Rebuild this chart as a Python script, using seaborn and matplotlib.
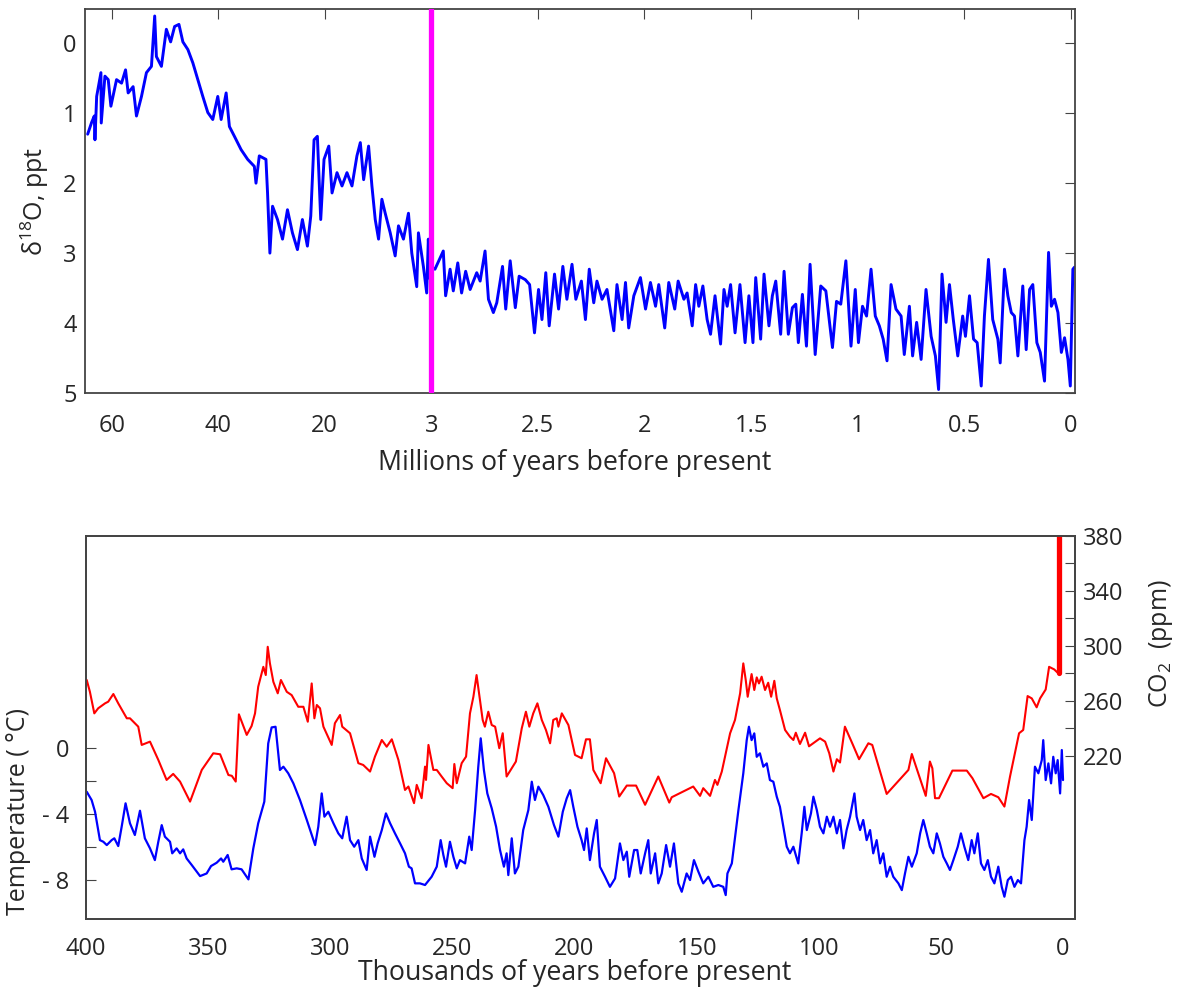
import numpy as np
import matplotlib
matplotlib.use("Agg")
import matplotlib.pyplot as plt
import seaborn as sns

# ---- top panel: benthic d18O, ages in Myr ----
d18o_age_myr = [
    64.5, 63.75, 63.26, 63.13, 62.81, 62.01, 61.95, 61.26, 60.64, 60.14,
    59.08, 58.14, 57.39, 56.90, 55.97, 55.34, 54.40, 53.47, 52.53, 51.92,
    51.60, 50.66, 49.73, 48.93, 48.18, 47.37, 46.63, 45.69, 44.76, 43.82,
    42.89, 41.95, 41.02, 40.08, 39.45, 38.51, 37.90, 36.96, 35.71, 34.47,
    33.22, 32.91, 32.29, 31.04, 30.74, 30.30, 29.80, 28.87, 27.93, 27.00,
    26.07, 25.13, 24.20, 23.26, 22.63, 22.01, 21.39, 20.76, 20.14, 19.36,
    18.84, 18.05, 17.25, 16.46, 15.66, 14.87, 14.33, 13.80, 13.01, 12.48,
    11.95, 11.42, 10.89, 10.36, 9.56, 8.77, 8.24, 7.45, 6.65, 6.12,
    5.33, 5.06, 4.27, 3.74, 3.48, 3.21, 3.00,
    2.983, 2.944, 2.933, 2.912, 2.897, 2.876, 2.858, 2.839, 2.818, 2.787,
    2.771, 2.748, 2.732, 2.709, 2.693, 2.666, 2.651, 2.630, 2.606, 2.588,
    2.559, 2.539, 2.516, 2.497, 2.481, 2.463, 2.447, 2.422, 2.403, 2.383,
    2.364, 2.340, 2.322, 2.296, 2.277, 2.259, 2.238, 2.223, 2.199, 2.176,
    2.144, 2.129, 2.105, 2.089, 2.074, 2.050, 2.019, 1.995, 1.972, 1.948,
    1.933, 1.905, 1.886, 1.858, 1.842, 1.815, 1.800, 1.776, 1.760, 1.745,
    1.726, 1.706, 1.690, 1.669, 1.643, 1.627, 1.612, 1.596, 1.575, 1.552,
    1.528, 1.510, 1.491, 1.478, 1.455, 1.439, 1.416, 1.400, 1.384, 1.361,
    1.345, 1.325, 1.306, 1.290, 1.278, 1.259, 1.240, 1.223, 1.199, 1.173,
    1.149, 1.118, 1.099, 1.079, 1.055, 1.031, 1.011, 0.996, 0.977, 0.958,
    0.937, 0.917, 0.898, 0.880, 0.862, 0.843, 0.820, 0.796, 0.781, 0.757,
    0.742, 0.723, 0.702, 0.679, 0.655, 0.635, 0.620, 0.604, 0.585, 0.569,
    0.551, 0.530, 0.507, 0.494, 0.475, 0.456, 0.439, 0.420, 0.405, 0.386,
    0.366, 0.342, 0.331, 0.311, 0.295, 0.279, 0.264, 0.248, 0.225, 0.209,
    0.193, 0.178, 0.159, 0.143, 0.123, 0.104, 0.091, 0.076, 0.060, 0.044,
    0.029, 0.013, 0.002, -0.010, -0.018,
]
d18o_ppt = [
    1.30, 1.13, 1.04, 1.38, 0.76, 0.42, 1.14, 0.47, 0.52, 0.90,
    0.52, 0.57, 0.38, 0.71, 0.62, 1.04, 0.76, 0.42, 0.33, -0.39,
    0.19, 0.33, -0.20, -0.02, -0.24, -0.27, -0.02, 0.09, 0.28, 0.52,
    0.76, 0.99, 1.09, 0.76, 1.09, 0.71, 1.19, 1.33, 1.52, 1.66,
    1.76, 2.00, 1.61, 1.66, 2.14, 3.00, 2.33, 2.52, 2.80, 2.38,
    2.71, 2.95, 2.52, 2.90, 2.47, 1.38, 1.33, 2.52, 1.66, 1.47,
    2.14, 1.85, 2.04, 1.85, 2.04, 1.61, 1.42, 1.95, 1.47, 2.04,
    2.52, 2.80, 2.23, 2.43, 2.71, 3.04, 2.61, 2.80, 2.43, 3.00,
    3.48, 2.71, 3.19, 3.57, 2.80, 3.37, 3.20,
    3.23, 2.97, 3.61, 3.23, 3.54, 3.14, 3.57, 3.26, 3.52, 3.28,
    3.40, 2.97, 3.66, 3.85, 3.71, 3.19, 3.80, 3.11, 3.78, 3.33,
    3.38, 3.45, 4.14, 3.52, 3.95, 3.28, 4.04, 3.30, 3.80, 3.19,
    3.66, 3.16, 3.66, 3.40, 3.95, 3.23, 3.71, 3.40, 3.66, 3.52,
    4.11, 3.45, 3.95, 3.42, 4.07, 3.61, 3.35, 3.80, 3.42, 3.76,
    3.45, 4.07, 3.42, 3.80, 3.40, 3.66, 3.57, 4.04, 3.45, 3.76,
    3.47, 3.95, 4.16, 3.61, 4.30, 3.52, 3.76, 3.45, 4.14, 3.45,
    4.28, 3.61, 4.28, 3.35, 4.23, 3.30, 4.04, 3.61, 3.40, 4.16,
    3.26, 4.16, 3.78, 3.73, 4.28, 3.59, 4.33, 3.16, 4.45, 3.47,
    3.54, 4.35, 3.69, 3.73, 3.11, 4.33, 3.52, 4.28, 3.76, 3.90,
    3.23, 3.90, 4.04, 4.23, 4.54, 3.45, 3.80, 3.90, 4.45, 3.76,
    4.47, 3.99, 4.52, 3.52, 4.19, 4.47, 4.95, 3.30, 3.99, 3.45,
    3.95, 4.47, 3.90, 4.19, 3.61, 4.23, 4.28, 4.90, 3.90, 3.09,
    3.95, 4.23, 4.57, 3.23, 3.61, 3.85, 3.90, 4.47, 3.47, 4.38,
    3.52, 3.45, 4.28, 4.42, 4.83, 2.99, 3.76, 3.66, 3.85, 4.42,
    4.21, 4.52, 4.90, 3.23, 3.20,
]
boundary_myr = 3.0
top_ticks = [60, 40, 20, 3, 2.5, 2, 1.5, 1, 0.5, 0]
top_tick_labels = ["60", "40", "20", "3", "2.5", "2", "1.5", "1", "0.5", "0"]

# ---- bottom panel: Vostok temperature and CO2, ages in kyr ----
temp_age_kyr = [
    399.7, 397.7, 396.3, 394.3, 392.9, 391.5, 389.5, 388.4, 386.8, 385.4,
    383.8, 382.0, 380.0, 377.9, 375.9, 373.8, 371.8, 370.4, 369.0, 367.7,
    365.6, 364.7, 362.9, 361.5, 360.2, 358.8, 356.7, 353.3, 350.6, 348.8,
    346.5, 344.7, 343.8, 342.0, 340.4, 338.3, 336.3, 333.5, 331.5, 329.5,
    327.0, 325.4, 324.0, 322.4, 320.6, 319.2, 317.2, 315.1, 312.4, 309.6,
    306.2, 304.9, 303.5, 302.4, 300.8, 298.7, 296.7, 295.1, 293.3, 291.9,
    290.2, 288.5, 287.1, 285.1, 283.7, 281.9, 280.6, 278.9, 277.2, 275.5,
    273.5, 271.4, 269.4, 267.8, 266.7, 265.3, 263.3, 261.2, 258.5, 256.4,
    254.8, 253.7, 252.6, 251.0, 249.6, 248.2, 246.9, 244.8, 243.1, 242.1,
    240.7, 239.4, 238.4, 237.1, 235.7, 233.9, 232.1, 230.5, 228.9, 227.8,
    227.1, 225.7, 224.4, 223.0, 221.0, 218.9, 217.5, 216.2, 214.8, 212.8,
    210.7, 208.4, 206.6, 204.8, 203.2, 201.8, 200.5, 198.8, 197.1, 196.1,
    195.0, 193.7, 192.0, 190.9, 189.6, 187.5, 185.5, 183.4, 181.4, 180.0,
    178.6, 177.6, 175.6, 174.3, 172.9, 171.1, 169.8, 168.8, 167.0, 165.7,
    164.3, 162.5, 160.9, 159.3, 157.5, 156.1, 154.1, 152.7, 151.1, 149.3,
    147.3, 145.2, 143.2, 141.1, 139.1, 138.1, 137.4, 135.6, 132.9, 130.9,
    129.5, 128.6, 127.5, 126.4, 125.4, 124.1, 122.7, 121.3, 120.0, 118.6,
    117.2, 115.9, 114.5, 113.1, 111.8, 110.4, 108.4, 107.0, 105.9, 104.9,
    103.2, 102.2, 100.8, 99.5, 98.1, 96.7, 95.4, 94.0, 92.6, 91.3,
    89.9, 88.6, 87.2, 85.4, 84.5, 83.1, 81.8, 80.4, 79.0, 77.7,
    76.3, 74.9, 73.6, 72.2, 70.8, 69.5, 67.4, 66.0, 64.7, 63.3,
    61.9, 59.9, 58.5, 57.2, 55.8, 54.5, 53.1, 51.7, 50.4, 49.0,
    47.6, 46.3, 44.9, 43.1, 41.8, 40.4, 38.8, 37.4, 36.3, 34.9,
    33.6, 32.2, 30.8, 29.5, 28.1, 26.5, 25.1, 24.0, 22.6, 21.3,
    19.9, 18.5, 17.2, 15.8, 14.9, 13.9, 12.8, 11.5, 10.1, 8.7,
    8.1, 7.1, 6.0, 4.9, 4.0, 3.0, 2.2, 1.2, 0.5, 0.0,
]
temp_c = [
    -2.65, -3.15, -3.86, -5.58, -5.68, -5.88, -5.58, -5.47, -5.94, -4.77,
    -3.35, -4.56, -5.27, -3.80, -5.47, -6.08, -6.79, -5.68, -4.67, -5.37,
    -5.68, -6.38, -6.08, -6.38, -6.14, -6.69, -7.09, -7.76, -7.60, -7.15,
    -6.95, -6.69, -6.89, -6.48, -7.35, -7.29, -7.35, -7.96, -6.08, -4.56,
    -3.25, 0.28, 1.25, 1.29, -1.33, -1.13, -1.53, -2.14, -3.15, -4.36,
    -5.88, -4.77, -2.75, -4.16, -3.86, -4.56, -5.17, -5.47, -4.16, -5.58,
    -5.98, -5.58, -6.69, -7.39, -5.37, -6.59, -5.78, -4.97, -3.96, -4.56,
    -5.17, -5.78, -6.38, -7.19, -7.29, -8.20, -8.20, -8.30, -7.80, -7.19,
    -5.58, -6.48, -7.19, -5.68, -6.59, -7.29, -6.79, -6.99, -5.37, -6.18,
    -3.76, -1.13, 0.59, -1.33, -2.75, -3.65, -4.77, -6.18, -7.19, -6.38,
    -7.70, -5.47, -7.60, -7.19, -4.97, -3.76, -2.04, -3.15, -2.34, -2.85,
    -3.56, -4.67, -5.37, -3.86, -3.05, -2.55, -3.56, -4.77, -5.58, -6.18,
    -4.87, -6.79, -5.17, -4.36, -7.19, -7.80, -8.41, -7.90, -5.78, -6.79,
    -6.28, -7.80, -6.18, -6.18, -7.60, -6.38, -5.58, -7.60, -6.38, -8.20,
    -7.60, -5.88, -7.19, -5.78, -8.20, -8.71, -7.60, -8.00, -6.79, -7.49,
    -8.20, -7.80, -8.41, -8.30, -8.41, -8.91, -7.60, -6.99, -3.76, -1.53,
    0.48, 1.29, 0.48, 0.89, -0.53, -0.32, -1.13, -0.93, -1.94, -2.04,
    -2.95, -3.56, -4.77, -5.98, -6.38, -5.98, -6.99, -5.17, -3.56, -4.97,
    -3.96, -2.95, -3.76, -4.77, -5.17, -4.16, -4.77, -4.16, -5.17, -4.36,
    -6.08, -4.97, -4.16, -2.75, -4.16, -4.97, -4.36, -5.58, -4.97, -6.38,
    -5.58, -6.99, -6.38, -7.80, -7.19, -7.80, -8.20, -8.61, -7.60, -6.59,
    -7.19, -6.38, -5.17, -4.36, -5.17, -5.98, -6.38, -5.17, -5.78, -6.59,
    -6.99, -7.39, -6.79, -5.98, -5.17, -5.98, -6.79, -5.58, -6.38, -5.17,
    -6.99, -7.39, -6.79, -7.80, -8.20, -7.19, -8.41, -9.01, -8.00, -7.80,
    -8.41, -8.00, -8.20, -5.58, -4.77, -3.15, -4.36, -1.13, -1.53, -0.73,
    0.48, -1.94, -0.93, -2.14, -0.53, -1.53, -0.73, -2.75, -0.12, -1.94,
]
co2_age_kyr = [
    399.7, 398.4, 396.6, 395.0, 392.2, 390.9, 388.8, 386.8, 383.3, 382.0,
    378.6, 377.2, 373.8, 370.4, 367.0, 364.3, 361.5, 357.4, 352.6, 347.9,
    345.1, 341.7, 340.3, 338.7, 337.4, 334.2, 332.2, 330.8, 329.5, 327.4,
    326.4, 325.6, 324.7, 323.3, 321.5, 320.2, 317.8, 315.8, 313.1, 311.0,
    309.2, 307.6, 306.5, 305.5, 304.2, 302.8, 299.4, 298.1, 296.0, 295.1,
    291.9, 288.5, 286.5, 283.7, 281.7, 278.9, 276.9, 274.8, 272.1, 269.4,
    268.0, 265.7, 264.6, 262.6, 261.2, 260.8, 259.8, 257.8, 256.4, 254.4,
    252.3, 249.9, 249.2, 248.2, 246.2, 244.4, 242.8, 241.4, 240.1, 237.6,
    236.7, 235.3, 233.9, 232.5, 230.8, 229.4, 227.8, 225.7, 224.0, 221.6,
    219.9, 218.5, 216.9, 215.2, 213.4, 211.7, 210.0, 208.7, 207.3, 206.6,
    205.2, 202.5, 199.8, 197.1, 195.3, 193.7, 192.3, 189.3, 187.1, 183.8,
    181.7, 178.6, 174.8, 171.1, 165.7, 161.2, 160.2, 151.4, 148.6, 147.3,
    144.5, 142.5, 141.5, 139.7, 136.3, 134.3, 132.2, 130.9, 129.9, 129.1,
    127.5, 126.4, 125.4, 124.5, 123.4, 122.0, 120.7, 119.5, 118.2, 117.2,
    115.9, 113.8, 111.8, 110.4, 109.4, 107.7, 105.6, 104.0, 99.5, 97.4,
    95.7, 94.0, 92.6, 91.3, 89.3, 86.3, 83.5, 79.7, 78.1, 72.2,
    63.3, 61.9, 56.2, 54.5, 53.5, 52.4, 50.8, 45.3, 39.4, 37.1,
    32.6, 29.5, 26.5, 24.0, 21.7, 18.0, 16.3, 14.5, 12.8, 10.8,
    9.4, 7.1, 5.7, 3.6, 2.2, 1.2,
]
co2_ppm = [
    275.1, 266.5, 250.8, 254.5, 258.1, 259.3, 264.9, 258.1, 247.2, 247.2,
    241.1, 227.8, 230.2, 216.9, 202.3, 206.7, 201.1, 186.5, 209.6, 221.7,
    221.0, 205.9, 205.3, 201.1, 250.1, 235.1, 241.6, 250.8, 270.2, 284.7,
    278.7, 299.3, 287.2, 273.8, 265.4, 275.1, 266.5, 264.1, 255.6, 255.6,
    244.7, 272.6, 247.2, 256.9, 254.5, 241.1, 227.8, 243.6, 249.6, 241.1,
    236.3, 214.5, 213.2, 208.4, 219.3, 231.4, 226.5, 231.9, 216.9, 195.0,
    197.5, 185.4, 198.7, 189.0, 212.0, 202.3, 227.8, 209.6, 209.6, 204.8,
    199.9, 196.3, 213.9, 199.9, 214.5, 219.3, 250.8, 262.9, 278.7, 246.0,
    241.1, 252.0, 242.3, 241.1, 225.4, 236.3, 204.8, 210.8, 215.7, 239.9,
    252.0, 241.1, 250.8, 258.1, 246.0, 238.7, 229.0, 246.0, 247.2, 241.1,
    250.8, 242.3, 220.5, 218.1, 231.9, 231.9, 209.6, 199.9, 218.1, 207.2,
    190.2, 198.2, 198.2, 184.2, 204.8, 185.8, 189.7, 197.5, 190.7, 196.3,
    190.7, 202.3, 198.7, 208.4, 236.3, 246.0, 265.4, 287.2, 275.1, 262.9,
    279.4, 267.8, 277.0, 272.6, 277.5, 267.8, 273.1, 262.9, 274.5, 261.7,
    253.2, 238.7, 233.8, 231.4, 236.7, 228.5, 236.7, 226.8, 232.6, 230.2,
    221.7, 208.4, 217.4, 215.0, 241.1, 229.0, 217.4, 229.0, 227.8, 192.1,
    209.6, 221.2, 190.7, 215.7, 210.8, 189.0, 189.0, 209.1, 209.1, 203.6,
    189.0, 192.1, 189.7, 182.9, 204.8, 236.3, 238.7, 263.4, 261.7, 255.2,
    261.7, 268.2, 284.7, 282.8, 280.4, 280.4,
]
modern_age_kyr = [1.5, 1.5]
modern_co2_ppm = [280, 380]
kyr_ticks = [400, 350, 300, 250, 200, 150, 100, 50, 0]
temp_ticks = [-8, -6, -4, -2, 0]
temp_tick_labels = ["- 8", "", "- 4", "", "0"]
co2_ticks = [220, 240, 260, 280, 300, 320, 340, 360, 380]
co2_tick_labels = ["220", "", "260", "", "300", "", "340", "", "380"]

assert len(d18o_age_myr) == len(d18o_ppt)
assert len(temp_age_kyr) == len(temp_c)
assert len(co2_age_kyr) == len(co2_ppm)

sns.set_style("white")
plt.rcParams["font.family"] = ["Open Sans", "DejaVu Sans"]
plt.rcParams["mathtext.default"] = "regular"

BLUE = "#0000ff"
RED = "#ff0000"
SPINE = "#444444"


# piecewise age axis: 0-3 Myr stretched, 3-20 and 20-65 compressed
def fwd(t):
    t = np.asarray(t, dtype=float)
    return np.where(t <= 3, 2 * t, np.where(t <= 20, 6 + (t - 3) / 17, 7 + (t - 20) / 20))


def inv(v):
    v = np.asarray(v, dtype=float)
    return np.where(v <= 6, v / 2, np.where(v <= 7, 3 + (v - 6) * 17, 20 + (v - 7) * 20))


W, H = 1185, 990
fig = plt.figure(figsize=(W / 100, H / 100), dpi=100)
ax1 = fig.add_axes([85 / W, 1 - 393 / H, 990 / W, 384 / H])
ax2 = fig.add_axes([86 / W, 1 - 919 / H, 989 / W, 383 / H])
ax3 = ax2.twinx()

# top panel
sns.lineplot(x=d18o_age_myr, y=d18o_ppt, ax=ax1, color=BLUE, lw=2.1,
             estimator=None, sort=False)
ax1.set_xscale("function", functions=(fwd, inv))
ax1.set_xlim(65, -0.02)
ax1.set_ylim(5, -0.49)
ax1.axvline(boundary_myr, color="#ff00ff", lw=3.8, zorder=4)
ax1.set_xticks(top_ticks, top_tick_labels)
ax1.minorticks_off()
ax1.set_yticks([0, 1, 2, 3, 4, 5])
ax1.tick_params(axis="x", direction="in", length=7, top=True, pad=15,
                labelsize=17, color=SPINE)
ax1.tick_params(axis="y", direction="in", length=7, right=True, pad=6,
                labelsize=17, color=SPINE)
ax1.set_xlabel("Millions of years before present", fontsize=19.2)
ax1.set_ylabel(r"$\delta^{18}$O, ppt", fontsize=18)
ax1.xaxis.set_label_coords(0.495, -0.145)
ax1.yaxis.set_label_coords(-0.034, 0.5)

# bottom panel
sns.lineplot(x=temp_age_kyr, y=temp_c, ax=ax2, color=BLUE, lw=1.6,
             estimator=None, sort=False)
sns.lineplot(x=co2_age_kyr, y=co2_ppm, ax=ax3, color=RED, lw=1.5,
             estimator=None, sort=False)
sns.lineplot(x=modern_age_kyr, y=modern_co2_ppm, ax=ax3, color=RED, lw=3.8,
             estimator=None, sort=False)
ax2.set_xlim(400, -4.9)
ax2.set_ylim(-10.36, 12.85)
ax3.set_ylim(101, 380)
ax2.set_xticks(kyr_ticks, [str(k) for k in kyr_ticks])
ax2.set_yticks(temp_ticks, temp_tick_labels)
ax3.set_yticks(co2_ticks, co2_tick_labels)
ax2.tick_params(axis="x", direction="in", length=7, pad=13, labelsize=17, color=SPINE)
ax2.tick_params(axis="y", direction="in", length=7, pad=12, labelsize=17, color=SPINE)
ax3.tick_params(axis="y", direction="in", length=7, pad=6, labelsize=17, color=SPINE)
ax2.set_xlabel("Thousands of years before present", fontsize=19.2)
ax2.set_ylabel("Temperature ( \u00b0C)", fontsize=18)
ax3.set_ylabel("CO$_2$  (ppm)", fontsize=18)
ax2.xaxis.set_label_coords(0.494, -0.105)
ax2.yaxis.set_label_coords(-0.056, 0.28)
ax3.yaxis.set_label_coords(1.073, 0.72)

for ax in (ax1, ax2, ax3):
    for sp in ax.spines.values():
        sp.set_color(SPINE)
        sp.set_linewidth(1.3)

fig.savefig("out.png", dpi=100, facecolor="white")
